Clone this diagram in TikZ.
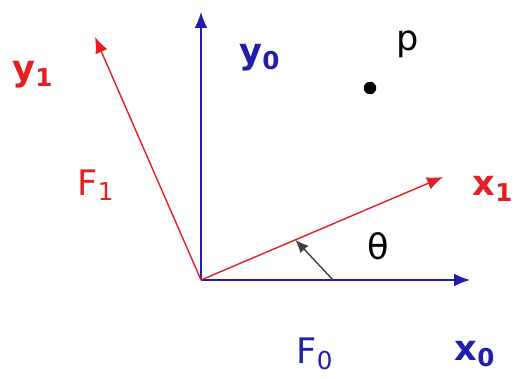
\documentclass[tikz,border=0pt]{standalone}
\usepackage{fontspec}
\setmainfont{DejaVu Sans}
\usetikzlibrary{arrows.meta, calc}

\definecolor{axred}{RGB}{230,30,35}
\definecolor{axblue}{RGB}{35,30,170}

\begin{document}
\begin{tikzpicture}[
      font=\fontsize{20}{24}\selectfont,
      axis0/.style={draw=axblue, line width=0.9pt, -{Latex[length=3.2mm, width=2.6mm]}},
      axis1/.style={draw=axred, line width=0.8pt, -{Latex[length=3.2mm, width=2.6mm]}},
      lab0/.style={text=axblue, font=\fontsize{20}{24}\selectfont\bfseries},
      lab1/.style={text=axred, font=\fontsize{20}{24}\selectfont\bfseries},
      frm0/.style={text=axblue},
      frm1/.style={text=axred},
      arr/.style={-{Latex[length=2.6mm, width=2.2mm]}, draw=black!75, line width=0.8pt}
    ]
    \useasboundingbox (0,0) rectangle (10.42,7.56);

    % Frame origins and axis ends
    \coordinate (o) at (4.02,1.96);
    \coordinate (x0end) at (9.40,1.96);
    \coordinate (y0end) at (4.02,7.32);
    \coordinate (x1end) at (8.86,4.02);
    \coordinate (y1end) at (1.90,6.82);

    % Frame F0
    \draw[axis0] (o) -- (x0end);
    \draw[axis0] (o) -- (y0end);

    % Frame F1
    \draw[axis1] (o) -- (x1end);
    \draw[axis1] (o) -- (y1end);

    % Angle
    \coordinate (th0) at (6.66,1.96);
    \coordinate (th1) at ($(o)!0.39!(x1end)$);
    \draw[arr] (th0) -- (th1);
    \node (theta) at (7.56,2.64) {θ};

    % Point p
    \node[circle, fill=black, inner sep=0pt, minimum size=2.5mm] (pdot) at (7.40,5.80) {};
    \node (plab) at (8.16,6.68) {p};

    % Labels
    \node[lab0] (x0lab) at (9.50,0.48) {x\textsubscript{0}};
    \node[lab0] (y0lab) at (5.20,6.40) {y\textsubscript{0}};
    \node[lab1] (x1lab) at (9.86,3.78) {x\textsubscript{1}};
    \node[lab1] (y1lab) at (0.66,6.06) {y\textsubscript{1}};
    \node[frm0] (f0lab) at (6.30,0.48) {F\textsubscript{0}};
    \node[frm1] (f1lab) at (1.92,3.86) {F\textsubscript{1}};
  \end{tikzpicture}
\end{document}
